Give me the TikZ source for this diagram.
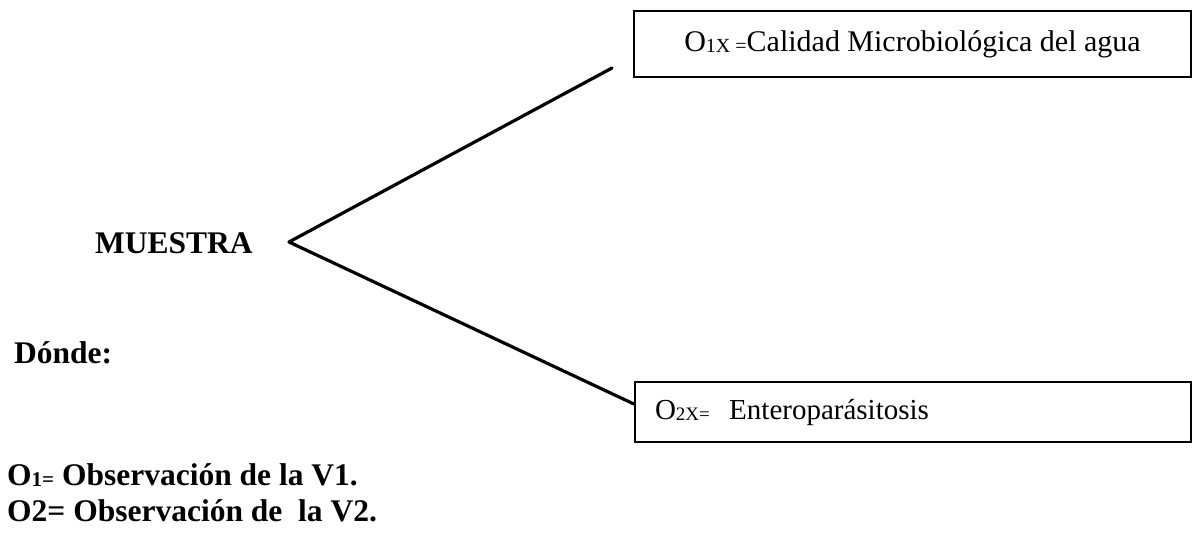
\documentclass[tikz,border=0pt]{standalone}
\usepackage{fontspec}
\setmainfont{Liberation Serif}
\usepackage{tikz}
\usetikzlibrary{positioning}

\newcommand\indice[2][20]{\raisebox{-1.5pt}{\fontsize{#1}{#1}\selectfont #2}}

\tikzset{
  obsbox/.style={draw, line width=2.2pt, inner sep=0pt, minimum height=#1},
  rama/.style={line width=3.2pt, line cap=round},
  rotulo/.style={font=\fontsize{31.5}{36}\selectfont\bfseries, inner sep=0pt, anchor=base west}
}

\begin{document}
\begin{tikzpicture}[x=1pt, y=-1pt]
  \useasboundingbox (0,0) rectangle (1193,533);

  % Muestra
  \node[rotulo] (muestra) at (95,253) {MUESTRA};
  \coordinate (fork) at (289,242);

  % Cajas
  \node[obsbox=66pt, minimum width=557pt, font=\fontsize{30}{34}\selectfont] (obs1) at (912.5,44)
    {O\indice{1X =}Calidad Microbiológica del agua};
  \node[obsbox=60pt, text width=516pt, inner xsep=20pt, align=left,
        font=\fontsize{29}{33}\selectfont] (obs2) at (913,412)
    {O\indice[19]{2X=}\ \ Enteroparásitosis};

  % Ramas
  \coordinate (upend) at (612,68);
  \coordinate (lowend) at ([yshift=8pt]obs2.west);
  \draw[rama] (fork) -- (upend);
  \draw[rama] (fork) -- (lowend);

  % Leyenda
  \node[rotulo] (donde) at (14,363) {Dónde:};
  \node[rotulo] (leg1) at (7,485) {O\indice[21]{1=} Observación de la V1.};
  \node[rotulo] (leg2) at (7,521) {O2= Observación de\ \ la V2.};
\end{tikzpicture}
\end{document}
